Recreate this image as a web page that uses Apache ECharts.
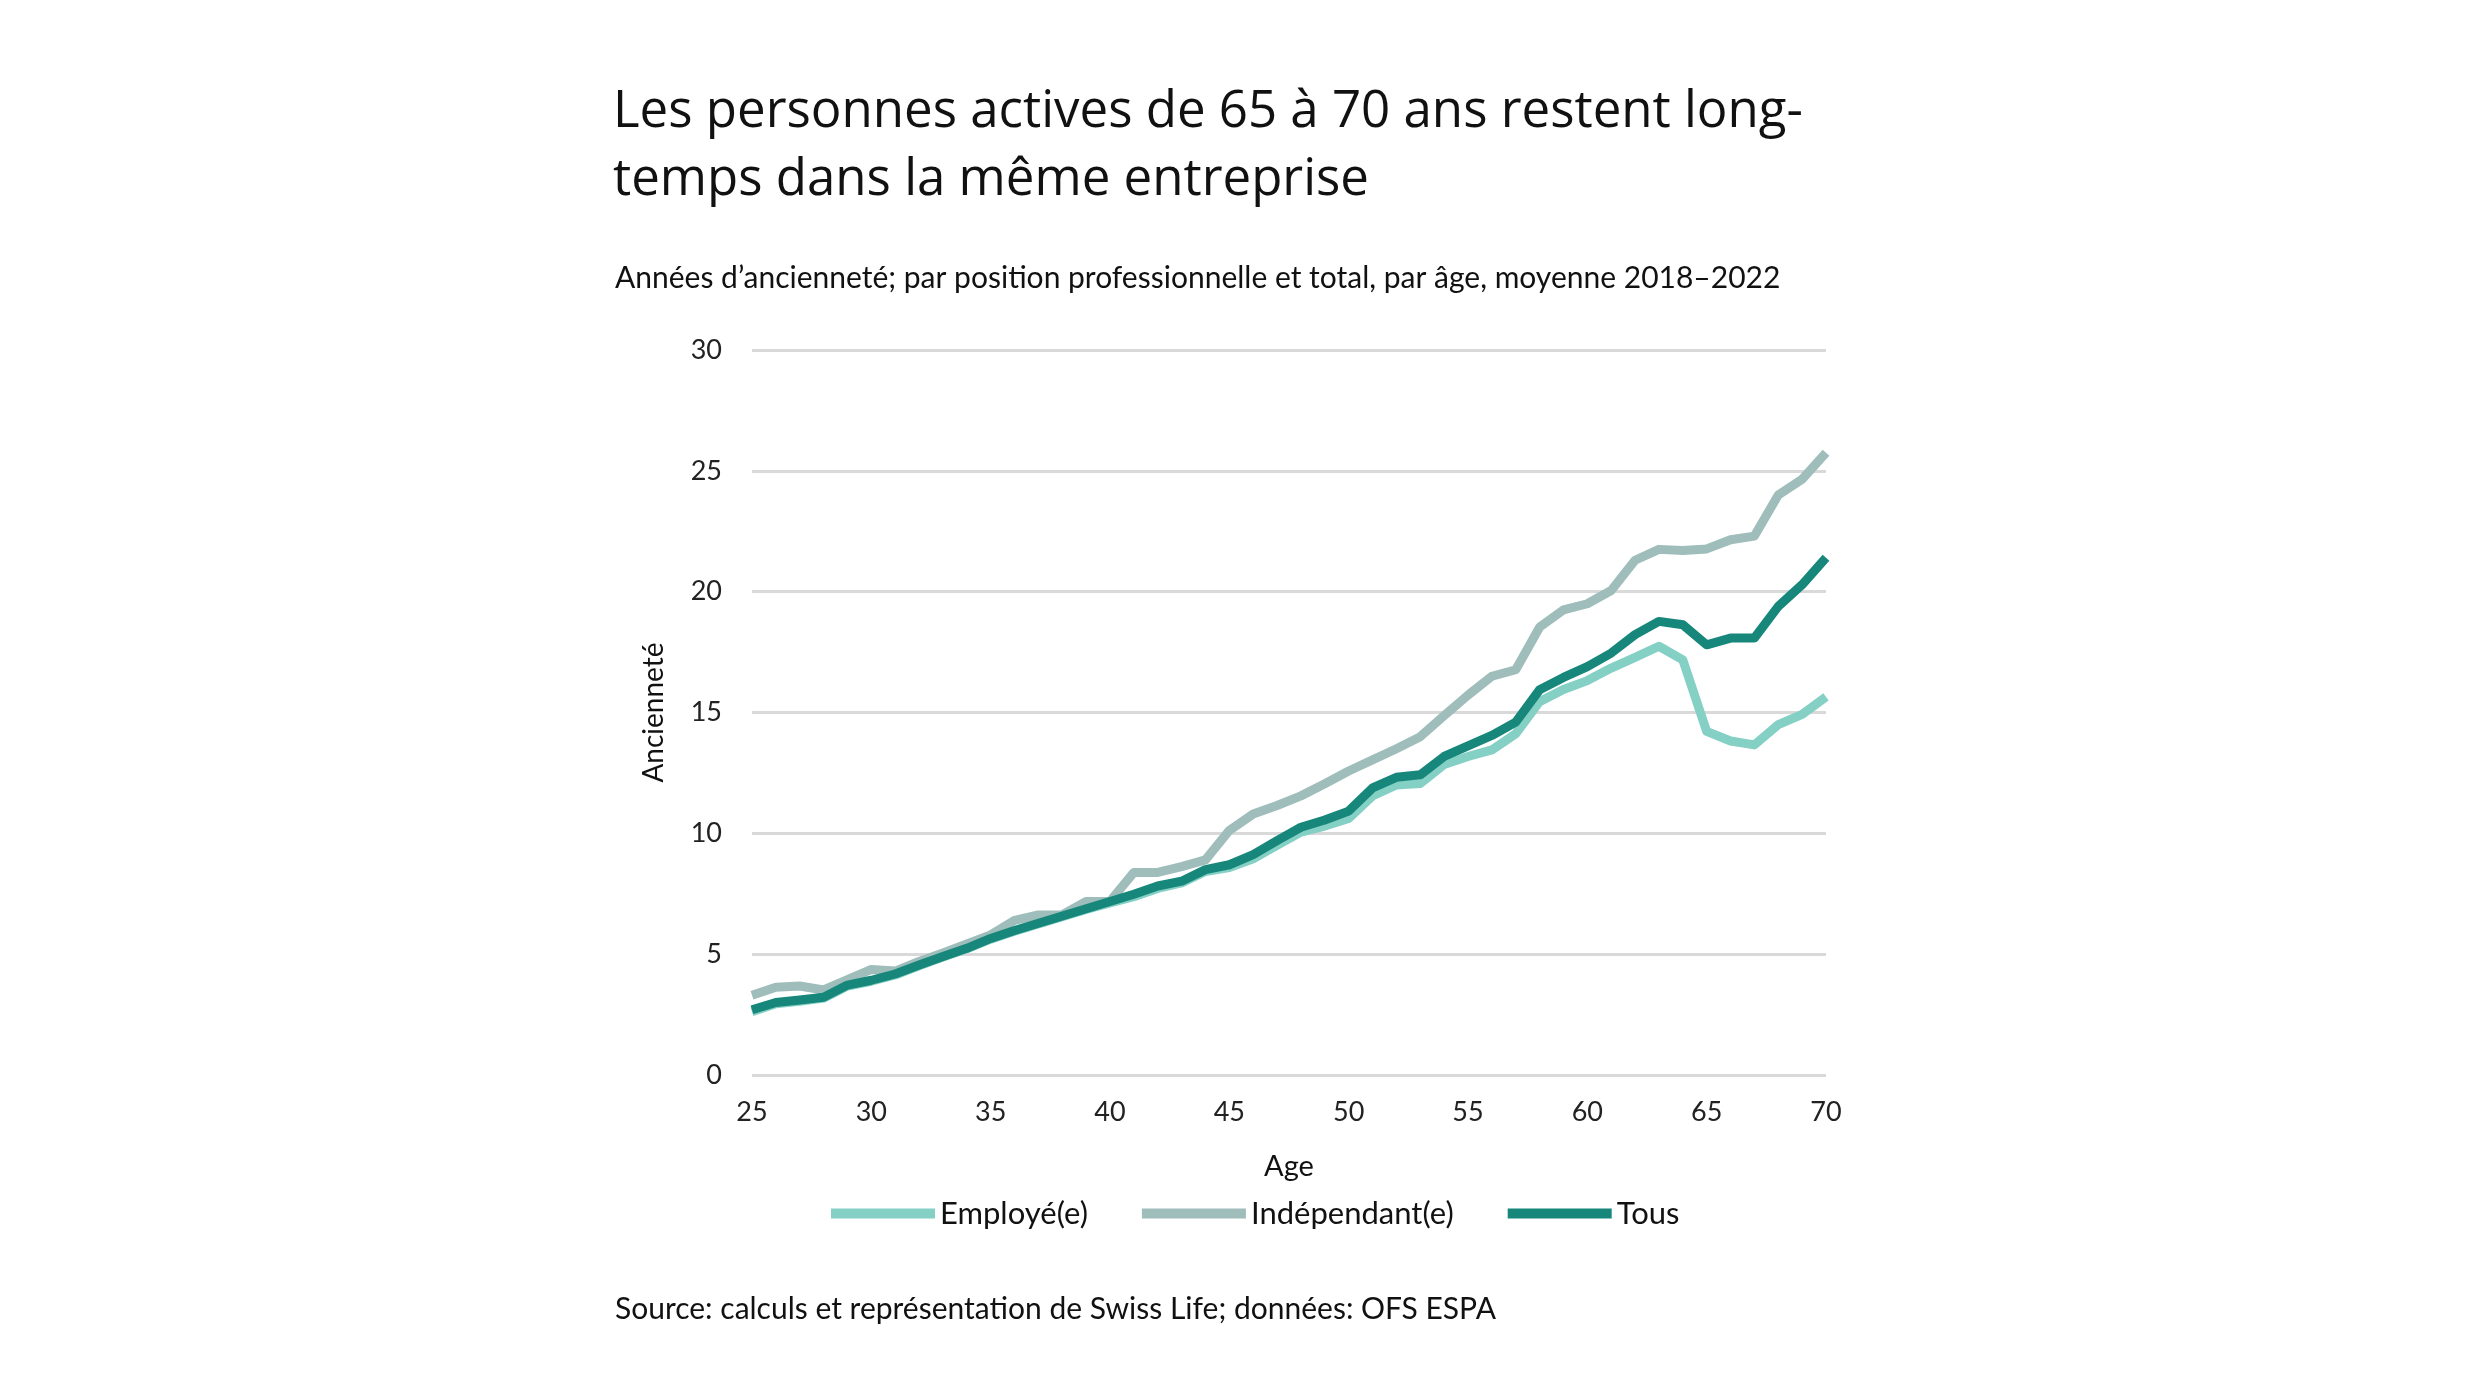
<!DOCTYPE html>
<html>
<head>
<meta charset="utf-8">
<script src="https://cdn.jsdelivr.net/npm/echarts@6/dist/echarts.min.js"></script>
<style>
html,body{margin:0;padding:0;background:#fff;}
#chart{width:2480px;height:1395px;}
</style>
</head>
<body>
<div id="chart"></div>
<script>
const ages = [25,26,27,28,29,30,31,32,33,34,35,36,37,38,39,40,41,42,43,44,45,46,47,48,49,50,51,52,53,54,55,56,57,58,59,60,61,62,63,64,65,66,67,68,69,70];
const employe = [2.62,2.95,3.05,3.18,3.68,3.88,4.14,4.52,4.88,5.22,5.62,5.95,6.25,6.55,6.85,7.12,7.38,7.72,7.95,8.42,8.58,8.95,9.5,10.05,10.3,10.62,11.55,12.0,12.06,12.85,13.18,13.45,14.12,15.45,15.95,16.32,16.84,17.28,17.74,17.18,14.22,13.82,13.66,14.5,14.92,15.65];
const independant = [3.3,3.63,3.68,3.52,3.95,4.37,4.3,4.7,5.05,5.42,5.8,6.4,6.62,6.63,7.18,7.18,8.38,8.38,8.62,8.9,10.12,10.8,11.15,11.55,12.05,12.58,13.04,13.5,14.0,14.87,15.72,16.5,16.77,18.53,19.25,19.5,20.05,21.3,21.75,21.7,21.77,22.15,22.3,24.0,24.65,25.75];
const tous = [2.7,3.0,3.1,3.22,3.72,3.92,4.18,4.55,4.9,5.24,5.65,5.98,6.28,6.58,6.88,7.18,7.48,7.82,8.02,8.5,8.7,9.12,9.7,10.25,10.55,10.92,11.88,12.32,12.42,13.18,13.62,14.05,14.6,15.94,16.45,16.9,17.46,18.22,18.77,18.63,17.8,18.08,18.08,19.39,20.29,21.4];
const seriesNames = ['Employé(e)','Indépendant(e)','Tous'];
const seriesColors = ['#85d0c5','#9fbebb','#17877b'];
const titleText = 'Les personnes actives de 65 à 70 ans restent long-\ntemps dans la même entreprise';
const subtitleText = 'Années d’ancienneté; par position professionnelle et total, par âge, moyenne 2018–2022';
const sourceText = 'Source: calculs et représentation de Swiss Life; données: OFS ESPA';
const xAxisName = 'Age';
const yAxisName = 'Ancienneté';

const FONT = 'Lato, "Open Sans", sans-serif';
const TITLE_FONT = '"Open Sans", Lato, sans-serif';
const chart = echarts.init(document.getElementById('chart'));
const zip = (arr) => ages.map((a, i) => [a, arr[i]]);
const dataSets = [employe, independant, tous];

chart.setOption({
  backgroundColor: '#ffffff',
  animation: false,
  textStyle: { fontFamily: FONT },
  title: [
    { text: titleText, left: 608, top: 73,
      textStyle: { fontFamily: TITLE_FONT, fontSize: 51, fontWeight: 'normal', color: '#111', lineHeight: 68 } },
    { text: subtitleText, left: 610, top: 255,
      textStyle: { fontFamily: FONT, fontSize: 30, fontWeight: 'normal', color: '#111', lineHeight: 36 } },
    { text: sourceText, left: 610, top: 1286,
      textStyle: { fontFamily: FONT, fontSize: 30, fontWeight: 'normal', color: '#111', lineHeight: 36 } }
  ],
  legend: {
    left: 826, top: 1193,
    icon: 'rect', itemWidth: 104, itemHeight: 10, itemGap: 54,
    textStyle: { fontFamily: FONT, fontSize: 31, color: '#111' },
    data: seriesNames
  },
  grid: { left: 752, right: 654, top: 350, bottom: 320, containLabel: false },
  xAxis: {
    type: 'value', min: 25, max: 70, interval: 5,
    name: xAxisName, nameLocation: 'middle', nameGap: 77,
    nameTextStyle: { fontFamily: FONT, fontSize: 29, color: '#111' },
    axisLine: { show: false }, axisTick: { show: false },
    axisLabel: { fontFamily: FONT, fontSize: 27, color: '#222', margin: 24 },
    splitLine: { show: false }
  },
  yAxis: {
    type: 'value', min: 0, max: 30, interval: 5,
    name: yAxisName, nameLocation: 'middle', nameGap: 84, nameRotate: 90,
    nameTextStyle: { fontFamily: FONT, fontSize: 28, color: '#111' },
    axisLine: { show: false }, axisTick: { show: false },
    axisLabel: { fontFamily: FONT, fontSize: 27, color: '#222', margin: 30 },
    splitLine: { show: true, lineStyle: { color: '#d9d9d9', width: 3 } }
  },
  series: seriesNames.map((n, i) => ({
    name: n, type: 'line', data: zip(dataSets[i]),
    showSymbol: false, symbol: 'none',
    color: seriesColors[i],
    lineStyle: { width: 9, color: seriesColors[i], cap: 'butt', join: 'round' },
    z: 2 + i
  }))
});
</script>
</body>
</html>
